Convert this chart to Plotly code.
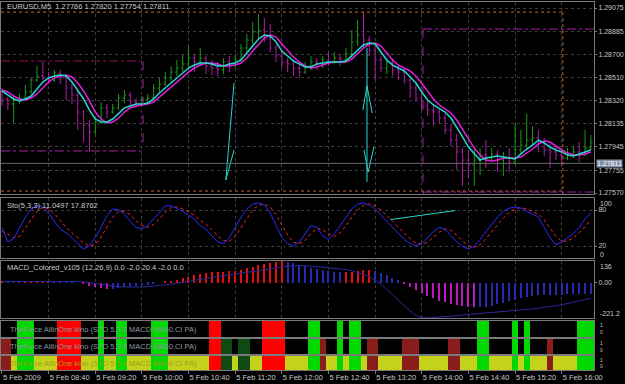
import plotly.graph_objects as go

W, H = 625, 384

# ---------------- data ----------------
tick_bars = [0, 8, 16, 24, 32, 40, 48, 56, 64, 72, 80, 88, 96]
time_labels = ["5 Feb 2009", "5 Feb 08:40", "5 Feb 09:20", "5 Feb 10:00", "5 Feb 10:40",
               "5 Feb 11:20", "5 Feb 12:00", "5 Feb 12:40", "5 Feb 13:20", "5 Feb 14:00",
               "5 Feb 14:40", "5 Feb 15:20", "5 Feb 16:00"]
price_ticks = [1.29075, 1.28885, 1.28700, 1.28510, 1.28320, 1.28135, 1.27945, 1.27755, 1.27570]

opens = [1.28392,1.28327,1.28294,1.28327,1.28343,1.28392,1.28489,1.28522,1.28506,1.28489,
 1.28546,1.28506,1.28424,1.28367,1.28229,1.28123,1.28066,1.28148,1.28262,1.28229,
 1.28262,1.28343,1.28367,1.28310,1.28302,1.28327,1.28343,1.28424,1.28457,1.28506,
 1.28554,1.28587,1.28620,1.28668,1.28636,1.28668,1.28603,1.28587,1.28571,1.28636,
 1.28611,1.28652,1.28750,1.28815,1.28880,1.28896,1.28831,1.28750,1.28685,1.28636,
 1.28620,1.28587,1.28554,1.28603,1.28636,1.28620,1.28652,1.28636,1.28668,1.28652,
 1.28701,1.28798,1.28855,1.28815,1.28733,1.28652,1.28587,1.28636,1.28571,1.28554,
 1.28489,1.28424,1.28343,1.28278,1.28245,1.28229,1.28180,1.28083,1.28001,1.27904,
 1.27838,1.27798,1.27838,1.27879,1.27855,1.27887,1.27838,1.27855,1.27822,1.27920,
 1.27960,1.28001,1.28018,1.27985,1.27920,1.27904,1.27879,1.27855,1.27887,1.27904,
 1.27879,1.27936]
highs = [1.28424,1.28351,1.28351,1.28376,1.28449,1.28506,1.28603,1.28636,1.28554,1.28571,
 1.28571,1.28530,1.28457,1.28392,1.28245,1.28164,1.28180,1.28310,1.28294,1.28294,
 1.28376,1.28408,1.28392,1.28343,1.28359,1.28376,1.28457,1.28506,1.28554,1.28603,
 1.28652,1.28693,1.28766,1.28701,1.28750,1.28685,1.28652,1.28636,1.28668,1.28685,
 1.28693,1.28782,1.28864,1.28961,1.29026,1.28994,1.28945,1.28782,1.28717,1.28668,
 1.28652,1.28620,1.28636,1.28685,1.28668,1.28685,1.28717,1.28717,1.28701,1.28750,
 1.28896,1.28977,1.29042,1.28847,1.28766,1.28685,1.28668,1.28668,1.28603,1.28587,
 1.28522,1.28457,1.28376,1.28327,1.28294,1.28262,1.28213,1.28132,1.28050,1.27936,
 1.27920,1.27920,1.27936,1.28001,1.27936,1.27920,1.27904,1.27936,1.28132,1.28083,
 1.28213,1.28115,1.28083,1.28018,1.27969,1.27952,1.27936,1.27936,1.27952,1.27985,
 1.28083,1.28042]
lows = [1.28278,1.28245,1.28140,1.28294,1.28327,1.28376,1.28473,1.28489,1.28457,1.28473,
 1.28457,1.28327,1.28294,1.28083,1.27985,1.27904,1.28050,1.28132,1.28180,1.28213,
 1.28245,1.28302,1.28278,1.28262,1.28278,1.28294,1.28327,1.28392,1.28441,1.28473,
 1.28522,1.28554,1.28587,1.28554,1.28603,1.28538,1.28530,1.28522,1.28538,1.28554,
 1.28587,1.28636,1.28717,1.28782,1.28831,1.28798,1.28717,1.28636,1.28587,1.28554,
 1.28522,1.28506,1.28538,1.28571,1.28571,1.28587,1.28603,1.28620,1.28603,1.28636,
 1.28668,1.28766,1.28750,1.28685,1.28489,1.28554,1.28538,1.28522,1.28489,1.28457,
 1.28343,1.28310,1.28245,1.28197,1.28115,1.28132,1.28050,1.27952,1.27757,1.27627,
 1.27692,1.27627,1.27716,1.27774,1.27838,1.27741,1.27709,1.27741,1.27806,1.27879,
 1.27920,1.27952,1.27904,1.27871,1.27774,1.27838,1.27790,1.27838,1.27855,1.27822,
 1.27871,1.27920]
closes = [1.28327,1.28294,1.28327,1.28343,1.28392,1.28489,1.28522,1.28506,1.28489,1.28546,
 1.28506,1.28424,1.28367,1.28229,1.28123,1.28066,1.28148,1.28262,1.28229,1.28262,
 1.28343,1.28367,1.28310,1.28302,1.28327,1.28343,1.28424,1.28457,1.28506,1.28554,
 1.28587,1.28620,1.28668,1.28636,1.28668,1.28603,1.28587,1.28571,1.28636,1.28611,
 1.28652,1.28750,1.28815,1.28880,1.28896,1.28831,1.28750,1.28685,1.28636,1.28620,
 1.28587,1.28554,1.28603,1.28636,1.28620,1.28652,1.28636,1.28668,1.28652,1.28701,
 1.28798,1.28855,1.28815,1.28733,1.28652,1.28587,1.28636,1.28571,1.28554,1.28489,
 1.28424,1.28343,1.28278,1.28245,1.28229,1.28180,1.28083,1.28001,1.27904,1.27838,
 1.27798,1.27838,1.27879,1.27855,1.27887,1.27838,1.27855,1.27822,1.27920,1.27960,
 1.28001,1.28018,1.27985,1.27920,1.27904,1.27879,1.27855,1.27887,1.27904,1.27879,
 1.27936,1.27985]
ma_fast = [1.28400,1.28367,1.28335,1.28319,1.28335,1.28359,1.28416,1.28473,1.28506,1.28522,
 1.28530,1.28522,1.28473,1.28408,1.28335,1.28245,1.28172,1.28148,1.28148,1.28172,
 1.28221,1.28262,1.28278,1.28294,1.28294,1.28302,1.28335,1.28384,1.28424,1.28465,
 1.28506,1.28546,1.28587,1.28611,1.28628,1.28628,1.28620,1.28603,1.28603,1.28620,
 1.28628,1.28652,1.28709,1.28774,1.28823,1.28855,1.28847,1.28798,1.28725,1.28685,
 1.28644,1.28620,1.28595,1.28595,1.28620,1.28628,1.28636,1.28636,1.28636,1.28644,
 1.28685,1.28733,1.28774,1.28790,1.28782,1.28717,1.28652,1.28611,1.28587,1.28563,
 1.28514,1.28465,1.28392,1.28327,1.28286,1.28254,1.28229,1.28180,1.28107,1.28026,
 1.27944,1.27887,1.27838,1.27855,1.27863,1.27871,1.27863,1.27855,1.27847,1.27887,
 1.27928,1.27960,1.28001,1.27977,1.27944,1.27920,1.27904,1.27879,1.27871,1.27887,
 1.27904,1.27920]
ma_slow = [1.28408,1.28392,1.28359,1.28335,1.28327,1.28343,1.28376,1.28424,1.28473,1.28506,
 1.28522,1.28530,1.28514,1.28465,1.28400,1.28319,1.28229,1.28172,1.28140,1.28148,
 1.28180,1.28229,1.28262,1.28278,1.28286,1.28294,1.28310,1.28351,1.28392,1.28432,
 1.28473,1.28514,1.28554,1.28587,1.28611,1.28628,1.28628,1.28620,1.28603,1.28603,
 1.28611,1.28628,1.28668,1.28725,1.28782,1.28831,1.28855,1.28839,1.28782,1.28725,
 1.28676,1.28636,1.28603,1.28587,1.28595,1.28611,1.28628,1.28636,1.28636,1.28636,
 1.28660,1.28701,1.28750,1.28782,1.28790,1.28766,1.28709,1.28652,1.28611,1.28587,
 1.28563,1.28522,1.28465,1.28400,1.28335,1.28286,1.28254,1.28221,1.28164,1.28091,
 1.28010,1.27936,1.27879,1.27838,1.27830,1.27838,1.27855,1.27855,1.27855,1.27863,
 1.27895,1.27928,1.27969,1.27993,1.27985,1.27952,1.27920,1.27895,1.27879,1.27879,
 1.27887,1.27904]

stoch_main = [51,27,32,51,68,82,87,85,75,61, 48,42,34,24,15,20,34,51,71,82,
 80,73,61,51,49,54,65,77,87,87, 82,78,71,65,54,48,37,27,24,34,
 51,68,82,90,92,88,75,54,34,24, 20,27,41,54,51,37,31,41,54,68,
 82,90,92,88,82,71,61,51,41,31, 24,20,24,34,44,51,48,37,27,19,
 15,20,31,44,56,68,78,83,85,83, 78,73,68,51,34,22,27,34,41,51,
 65,75]
stoch_signal = [45,40,34,36,50,66,78,84,82,74, 62,51,42,34,25,20,23,35,52,68,
 77,78,72,62,54,51,56,65,76,84, 85,82,77,71,63,56,47,37,29,28,
 36,51,67,80,88,90,85,73,55,38, 26,24,29,41,49,47,40,36,42,54,
 68,80,88,90,87,80,71,61,51,41, 32,25,23,26,34,43,48,46,38,28,
 20,18,22,32,44,56,67,76,82,84, 82,78,73,64,51,36,28,28,34,42,
 52,64]

macd_hist = [6,5,4,3,4,5,7,8,8,7,6,4,2,
 0,-8,-18,-28,-36,-40,-38,-33,
 -29,-25,-21,-17,-12,-6,0,6,12,20,
 28,38,48,56,62,64,66,
 68,72,76,82,90,100,110,
 118,124,130,134,130,122,
 112,102,94,86,80,74,
 70,68,68,70,74,
 78,78,72,62,48,
 32,14,-4,-24,-44,-64,
 -82,-98,-112,-124,-134,-142,-148,-152,
 -154,-154,-150,-144,-136,-126,
 -116,-106,-96,-88,-82,-78,-76,
 -74,-74,-74,-72,-72,-70,-70,-70]
macd_signal = [8,8,8,7,7,7,8,9,10,11,11,11,10,
 8,5,0,-6,-12,-18,-22,-25,
 -27,-28,-28,-27,-25,-22,-18,-14,-9,-3,
 3,10,17,24,31,37,42,
 47,51,55,59,64,69,75,
 81,87,93,99,103,106,
 107,106,104,101,98,94,
 90,86,82,76,66,
 52,36,16,-10,-40,
 -75,-110,-145,-178,-205,-218,
 -221,-219,-216,-213,-210,-206,-203,-200,
 -196,-193,-190,-187,-184,-181,
 -178,-175,-172,-168,-164,-160,-156,
 -150,-144,-138,-130,-122,-114,-106,-98]

# signal rows: 0 none, 1 green, 2 red, 3 dark red, 4 dark green, 5 yellow
row1_codes = ("0001110000" "2222000100" "1100001110" "0000002200" "0000022220"
              "0001100010" "1100000000" "0000000000" "0011000010" "1000000001" "11")
row2_codes = ("3301110000" "2222000100" "1100001110" "0000002244" "0440022220"
              "0001130010" "1103300003" "3300000330" "0011000010" "1000300001" "11")
row3_codes = ("3351115555" "2222555155" "1155551115" "5555552244" "5445522225"
              "5551135515" "1153355553" "3355555335" "5511555515" "1555355551" "11")

# chart objects (bar index, price)
arrow1_x, arrow1_y = [38.4, 39.8], [1.27676, 1.28465]
arrow1b_x, arrow1b_y = [38.4, 39.8], [1.27676, 1.27920]
arrow2_x, arrow2_y = [62.6, 62.6], [1.28750, 1.27660]
arrow2a_x, arrow2a_y = [61.9, 62.6, 63.5], [1.28245, 1.28441, 1.28221]
arrow2b_x, arrow2b_y = [62.1, 62.8, 63.8], [1.27920, 1.27741, 1.27944]
stoch_tl_x, stoch_tl_y = [66.6, 77.7], [64, 79]
level_top, level_bottom = 1.29042, 1.27586
box_l_top, box_l_bot, box_l_end = 1.28644, 1.27912, 24.2
box_r_top, box_r_start, box_r_bot = 1.28904, 72.2, 1.27578
vline_bar = 96.2
bid = 1.27811

for arr in (opens, highs, lows, closes, ma_fast, ma_slow, stoch_main, stoch_signal, macd_hist, macd_signal):
    assert len(arr) == 102, len(arr)
for s in (row1_codes, row2_codes, row3_codes):
    assert len(s) == 102, len(s)

bars = list(range(102))

# ---------------- style ----------------
FONT = "Liberation Sans, Arial, sans-serif"
TXT = "#c8c8c8"
GRID = "#3c3c3c"
FRAME = "#7a7a7a"
UP = "#1c9a1c"
DN = "#b01ca8"
CYAN = "#28d8d0"
MAG = "#e020e0"

def py(p):
    return 1 - p / H

def px(p):
    return p / W

XDOM = [px(1), px(594)]
XR = [-0.17, 101.54]
doms = {
    1: [py(194), py(2)],
    2: [py(258), py(198)],
    3: [py(318), py(261)],
    4: [py(337), py(321)],
    5: [py(354), py(339)],
    6: [py(370), py(356)],
}

fig = go.Figure()

fig.add_trace(go.Ohlc(x=bars, open=opens, high=highs, low=lows, close=closes,
                      increasing=dict(line=dict(color=UP, width=1)),
                      decreasing=dict(line=dict(color=DN, width=1)),
                      tickwidth=0.3, xaxis="x", yaxis="y", hoverinfo="skip"))
fig.add_trace(go.Scatter(x=bars, y=ma_slow, mode="lines", line=dict(color=MAG, width=1.5),
                         xaxis="x", yaxis="y"))
fig.add_trace(go.Scatter(x=bars, y=ma_fast, mode="lines", line=dict(color=CYAN, width=1.5),
                         xaxis="x", yaxis="y"))
for xs, ys in [(arrow1_x, arrow1_y), (arrow1b_x, arrow1b_y), (arrow2_x, arrow2_y),
               (arrow2a_x, arrow2a_y), (arrow2b_x, arrow2b_y)]:
    fig.add_trace(go.Scatter(x=xs, y=ys, mode="lines", line=dict(color=CYAN, width=1),
                             xaxis="x", yaxis="y"))

# stochastic
fig.add_trace(go.Scatter(x=bars, y=stoch_signal, mode="lines",
                         line=dict(color="#ff2a2a", width=1, dash="dot"), xaxis="x2", yaxis="y2"))
fig.add_trace(go.Scatter(x=bars, y=stoch_main, mode="lines",
                         line=dict(color="#2a2aff", width=1), xaxis="x2", yaxis="y2"))
fig.add_trace(go.Scatter(x=stoch_tl_x, y=stoch_tl_y, mode="lines",
                         line=dict(color=CYAN, width=1), xaxis="x2", yaxis="y2"))

# MACD
hist_colors = []
for i, v in enumerate(macd_hist):
    prev = macd_hist[i - 1] if i > 0 else v
    if v > 0 and v >= prev:
        hist_colors.append("#e01010")
    elif v < 0 and v < prev:
        hist_colors.append("#c018c0")
    else:
        hist_colors.append("#2a2ab0")
fig.add_trace(go.Bar(x=bars, y=macd_hist, width=0.22, marker=dict(color=hist_colors, line=dict(width=0)),
                     xaxis="x3", yaxis="y3"))
fig.add_trace(go.Scatter(x=bars, y=macd_signal, mode="lines",
                         line=dict(color="#2a2a9a", width=1), xaxis="x3", yaxis="y3"))

# signal rows
cols = ["#000000", "#00d800", "#ff0000", "#8a1c1c", "#0f4a14", "#c4d21c"]
cs = []
n = len(cols)
for k, c in enumerate(cols):
    cs.append([k / n, c])
    cs.append([(k + 1) / n, c])
for k, codes in zip((4, 5, 6), (row1_codes, row2_codes, row3_codes)):
    fig.add_trace(go.Heatmap(z=[[int(ch) for ch in codes]], x=bars, y=[0], colorscale=cs,
                             zmin=-0.5, zmax=n - 0.5, showscale=False,
                             xaxis=f"x{k}", yaxis=f"y{k}", hoverinfo="skip"))

layout = dict(width=W, height=H, margin=dict(l=0, r=0, t=0, b=0, autoexpand=False),
              paper_bgcolor="#000000", plot_bgcolor="#000000", showlegend=False,
              font=dict(family=FONT, size=7, color=TXT), bargap=0)

for k in range(1, 7):
    xa = dict(domain=XDOM, range=XR, anchor=f"y{k}", showline=True, mirror=True,
              linecolor=FRAME, linewidth=1, zeroline=False, automargin=False,
              tickvals=tick_bars, ticktext=time_labels,
              showgrid=k <= 3, griddash="dot", gridcolor=GRID, gridwidth=1,
              showticklabels=(k == 6), ticks="outside" if k == 6 else "",
              ticklen=3, tickcolor=FRAME, tickangle=0,
              rangeslider=dict(visible=False))
    if k == 6:
        xa["ticklabelposition"] = "outside right"
        xa["tickfont"] = dict(family=FONT, size=7.5, color=TXT)
    if k > 1:
        xa["matches"] = "x"
    layout["xaxis" if k == 1 else f"xaxis{k}"] = xa

layout["yaxis"] = dict(domain=doms[1], range=[1.27562, 1.29124], side="right", anchor="x",
                       tickvals=price_ticks, ticktext=[f"{p:.5f}" for p in price_ticks],
                       showgrid=True, griddash="dot", gridcolor=GRID, zeroline=False,
                       showline=True, mirror=True, linecolor=FRAME, ticks="outside",
                       ticklen=2, tickcolor=FRAME, tickfont=dict(size=7, color=TXT),
                       automargin=False)
layout["yaxis2"] = dict(domain=doms[2], range=[0, 100], side="right", anchor="x2",
                        tickvals=[20, 80], ticktext=["20", "80"], showgrid=True, griddash="dot",
                        gridcolor=GRID, zeroline=False, showline=True, mirror=True,
                        linecolor=FRAME, ticks="outside", ticklen=2, tickcolor=FRAME,
                        tickfont=dict(size=7, color=TXT), automargin=False)
layout["yaxis3"] = dict(domain=doms[3], range=[-221.2, 136], side="right", anchor="x3",
                        tickvals=[0], ticktext=["0.00"], showgrid=False, zeroline=False,
                        showline=True, mirror=True, linecolor=FRAME, ticks="outside",
                        ticklen=2, tickcolor=FRAME, tickfont=dict(size=7, color=TXT),
                        automargin=False)
for k in (4, 5, 6):
    layout[f"yaxis{k}"] = dict(domain=doms[k], range=[-0.5, 0.5], side="right", anchor=f"x{k}",
                               showticklabels=False, showgrid=False, zeroline=False,
                               showline=True, mirror=True, linecolor=FRAME, automargin=False)

# shapes: levels and boxes
shapes = []
def seg(x0, y0, x1, y1, color, dash, width=1):
    shapes.append(dict(type="line", xref="x", yref="y", x0=x0, y0=y0, x1=x1, y1=y1,
                       line=dict(color=color, width=width, dash=dash)))
seg(XR[0], bid, XR[1], bid, "#6a6a6a", "solid")
seg(XR[0], level_top, vline_bar, level_top, "#c06a2a", "dot")
seg(XR[0], level_bottom, vline_bar, level_bottom, "#c06a2a", "dot")
seg(vline_bar, level_top, vline_bar, 1.27562, "#c06a2a", "dot")
seg(XR[0], box_l_top, box_l_end, box_l_top, "#8a1a5a", "dashdot")
seg(XR[0], box_l_bot, box_l_end, box_l_bot, "#a020a0", "dashdot")
seg(box_l_end, box_l_top, box_l_end, box_l_bot, "#a020a0", "dash")
seg(box_r_start, box_r_top, XR[1], box_r_top, "#a020a0", "dashdot")
seg(box_r_start, box_r_top, box_r_start, 1.27562, "#a020a0", "dash")
seg(box_r_start, box_r_bot, XR[1], box_r_bot, "#a020a0", "dashdot")
layout["shapes"] = shapes

ann = []
def label(x, y, text, size=7.5, color=TXT, xanchor="left", bg=None):
    d = dict(xref="paper", yref="paper", x=px(x), y=py(y), text=text, showarrow=False,
             xanchor=xanchor, yanchor="middle", font=dict(family=FONT, size=size, color=color))
    if bg:
        d["bgcolor"] = bg
        d["borderpad"] = 0
    ann.append(d)

label(5, 7, "EURUSD,M5  1.27766 1.27820 1.27754 1.27811")
label(5, 205, "Sto(5,3,3) 11.0497 17.8762")
label(5, 267, "MACD_Colored_v105 (12,26,9) 0.0 -2.0 20.4 -2.0 0.0")
row_text = "TheForce AllInOne kino (STO 5.3.3 MACD MA50.CI PA)"
label(8, 329, row_text, color="#8f97a0")
label(8, 346, row_text, color="#8f97a0")
label(8, 363, row_text, color="#9aa020")
label(598, 203, "100", size=7)
label(598, 254, "0", size=7)
label(598, 266, "136", size=7)
label(598, 313, "-221.2", size=7)
for yy, t in [(325, "1"), (332, "0"), (343, "1"), (350, "0"), (360, "1"), (366, "0")]:
    label(598, yy, t, size=5)
label(596, 164, "1.27811", size=7, color="#ffffff", bg="#7f8fa8")
layout["annotations"] = ann

fig.update_layout(**layout)
fig.write_html("out.html")
